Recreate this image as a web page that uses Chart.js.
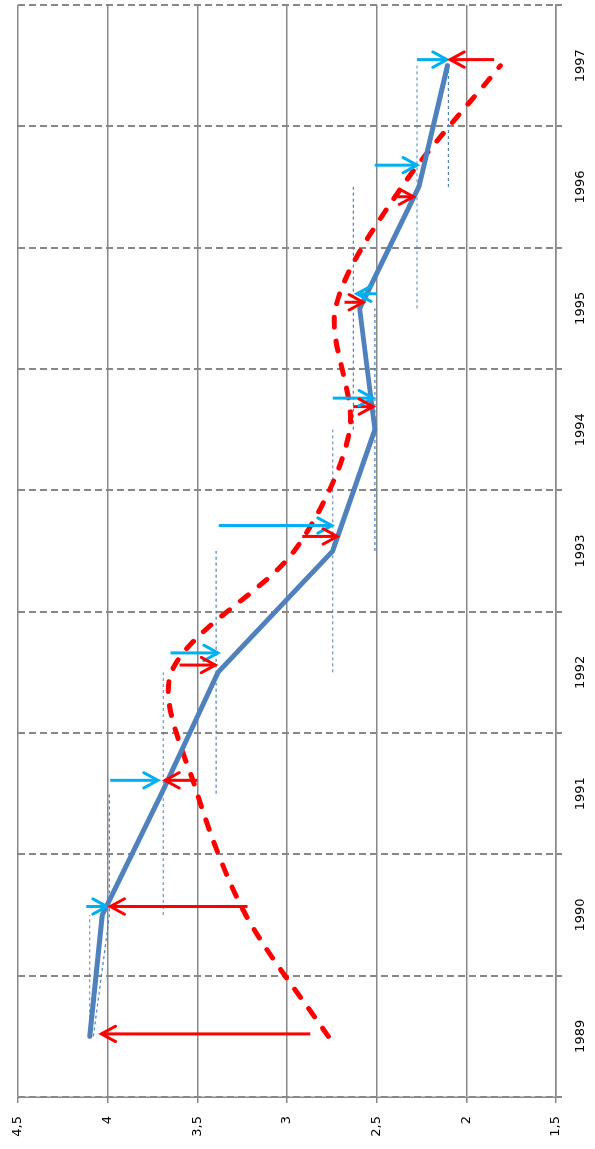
<!DOCTYPE html>
<html>
<head>
<meta charset="utf-8">
<script src="https://cdn.jsdelivr.net/npm/chart.js@4.4.0/dist/chart.umd.min.js"></script>
<style>
  html, body { margin: 0; padding: 0; background: #fff; overflow: hidden; }
  /* the chart is drawn landscape and turned a quarter left */
  #wrap { position: absolute; left: 0; top: 0; width: 1149px; height: 595px;
          transform-origin: 0 0; transform: translateY(1149px) rotate(-90deg); }
</style>
</head>
<body>
<div id="wrap"><canvas id="chart" width="1149" height="595"></canvas></div>
<script>
var years = [1989, 1990, 1991, 1992, 1993, 1994, 1995, 1996, 1997];
var actual = [4.10, 4.03, 3.70, 3.385, 2.745, 2.51, 2.595, 2.265, 2.105];
var forecast = [2.77, 3.23, 3.50, 3.645, 2.96, 2.65, 2.73, 2.36, 1.81];

// thin dashed guides: first year and the values year by year
var guideFrom = [1989, 1989, 1990, 1991, 1992, 1993, 1994, 1995, 1996];
var guideValues = [
  [4.10, 4.10],
  [4.08, 3.99, 3.99],
  [3.69, 3.69, 3.69],
  [3.395, 3.395, 3.395],
  [2.745, 2.745, 2.745],
  [2.51, 2.51, 2.51],
  [2.63, 2.63, 2.63],
  [2.275, 2.275, 2.275],
  [2.10, 2.10]
];

// arrows: position on the year axis, start value, end value
var cyanPos = [1990.07, 1991.11, 1992.16, 1993.21, 1994.26, 1995.12, 1996.18, 1997.05];
var cyanFrom = [4.12, 3.985, 3.65, 3.38, 2.745, 2.50, 2.51, 2.275];
var cyanTo = [4.005, 3.72, 3.385, 2.75, 2.52, 2.61, 2.275, 2.108];

var redPos = [1989.02, 1990.07, 1991.11, 1992.06, 1993.12, 1994.19, 1995.05, 1995.92, 1997.05];
var redFrom = [2.87, 3.22, 3.50, 3.60, 2.915, 2.63, 2.68, 2.385, 1.845];
var redTo = [4.035, 3.985, 3.68, 3.40, 2.72, 2.52, 2.575, 2.295, 2.09];

var gray = '#888888';
var blue = '#4F81BD';
var cyan = '#00B0F0';
var red = '#FF0000';

function pts(xs, ys) {
  return xs.map(function(x, i) { return {x: x, y: ys[i]}; });
}

var datasets = [];

cyanPos.forEach(function(p, i) {
  datasets.push({ data: [{x: p, y: cyanFrom[i]}, {x: p, y: cyanTo[i]}],
    borderColor: cyan, borderWidth: 3, arrow: true, order: 1 });
});
redPos.forEach(function(p, i) {
  datasets.push({ data: [{x: p, y: redFrom[i]}, {x: p, y: redTo[i]}],
    borderColor: red, borderWidth: 3, arrow: true, order: 1 });
});

datasets.push({ label: 'actual', data: pts(years, actual),
  borderColor: blue, borderWidth: 5, borderJoinStyle: 'round', borderCapStyle: 'round', order: 3 });

datasets.push({ label: 'forecast', data: pts(years, forecast),
  borderColor: red, borderWidth: 5, borderDash: [10, 14], borderCapStyle: 'round',
  tension: 0.3, order: 4 });

guideValues.forEach(function(vals, i) {
  var xs = vals.map(function(v, k) { return guideFrom[i] + k; });
  datasets.push({ data: pts(xs, vals), borderColor: blue, borderWidth: 1.2,
    borderDash: [3, 3], order: 5 });
});

var arrowHeads = {
  id: 'arrowHeads',
  afterDatasetsDraw: function(chart) {
    var ctx = chart.ctx;
    chart.data.datasets.forEach(function(ds, i) {
      if (!ds.arrow) return;
      var el = chart.getDatasetMeta(i).data;
      var a = el[0], b = el[1];
      var ang = Math.atan2(b.y - a.y, b.x - a.x);
      var len = 16, spread = 0.5;
      ctx.save();
      ctx.strokeStyle = ds.borderColor;
      ctx.lineWidth = 3;
      ctx.lineCap = 'round';
      ctx.lineJoin = 'miter';
      ctx.beginPath();
      ctx.moveTo(b.x - len * Math.cos(ang - spread), b.y - len * Math.sin(ang - spread));
      ctx.lineTo(b.x, b.y);
      ctx.lineTo(b.x - len * Math.cos(ang + spread), b.y - len * Math.sin(ang + spread));
      ctx.stroke();
      ctx.restore();
    });
  }
};

Chart.defaults.font.family = 'DejaVu Sans';
Chart.defaults.font.size = 13;
Chart.defaults.color = '#000';

var ctx = document.getElementById('chart').getContext('2d');
var chart = new Chart(ctx, {
  type: 'line',
  data: { datasets: datasets },
  plugins: [arrowHeads],
  options: {
    responsive: false,
    animation: false,
    layout: { padding: { top: 18, right: 5, left: 0, bottom: 0 } },
    elements: { point: { radius: 0 }, line: { fill: false } },
    plugins: { legend: { display: false }, tooltip: { enabled: false } },
    scales: {
      x: {
        type: 'linear',
        min: 1988.5,
        max: 1997.5,
        afterBuildTicks: function(scale) {
          scale.ticks = years.map(function(y) { return {value: y}; });
        },
        afterFit: function(scale) { scale.height = 39; },
        ticks: { padding: 11, maxRotation: 0, callback: function(v) { return String(v); } },
        grid: { offset: true, color: gray, lineWidth: 2, tickLength: 6, tickBorderDash: [7, 4] },
        border: { color: gray, width: 1.5, dash: [7, 4] }
      },
      y: {
        min: 1.5,
        max: 4.5,
        afterFit: function(scale) {
          scale.width = 52;
          scale.paddingTop = 8;
          scale.paddingBottom = 8;
        },
        ticks: { stepSize: 0.5, padding: 13,
          callback: function(v) { return String(v).replace('.', ','); } },
        grid: { color: gray, lineWidth: 1.5, tickLength: 6 },
        border: { color: gray, width: 1.5 }
      }
    }
  }
});
</script>
</body>
</html>
